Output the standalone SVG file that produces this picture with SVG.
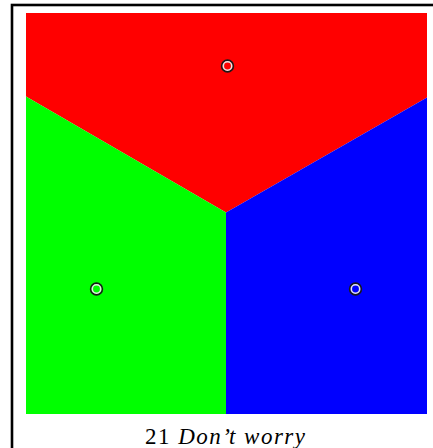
<svg xmlns="http://www.w3.org/2000/svg" width="433" height="448" viewBox="0 0 433 448">
  <style>
    .site-outer { fill: none; stroke: #1a1a1a; stroke-width: 1.6; }
    .site-inner { stroke: #e6e6e6; stroke-width: 1.5; }
    .caption { font-family: "Liberation Serif", "DejaVu Serif", serif; font-size: 23px; fill: #000; }
  </style>
  <rect x="0" y="0" width="433" height="448" fill="#fff"/>
  <rect x="12" y="5" width="430" height="460" fill="none" stroke="#000" stroke-width="2.6"/>
  <g id="regions">
    <polygon id="red-region" points="26,13 427,13 427,97.5 226,212.5 26,96.6" fill="#ff0000"/>
    <polygon id="green-region" points="26,96.6 226,212.5 226,414 26,414" fill="#00ff00"/>
    <polygon id="blue-region" points="226,212.5 427,97.5 427,414 226,414" fill="#0000ff"/>
  </g>
  <g id="site-red">
    <circle cx="227.5" cy="66" r="5.9" class="site-outer"/>
    <circle cx="227.5" cy="66" r="4.2" class="site-inner" fill="#ff0000"/>
  </g>
  <g id="site-green">
    <circle cx="96.5" cy="289" r="5.9" class="site-outer"/>
    <circle cx="96.5" cy="289" r="4.2" class="site-inner" fill="#00ff00"/>
  </g>
  <g id="site-blue">
    <circle cx="355.5" cy="289" r="5.9" class="site-outer"/>
    <circle cx="355.5" cy="289" r="4.2" class="site-inner" fill="#0000ff"/>
  </g>
  <g id="connectors"></g>
  <text class="caption" x="225" y="444" text-anchor="middle" textLength="160" lengthAdjust="spacing">21 <tspan font-style="italic">Don’t worry</tspan></text>
</svg>
